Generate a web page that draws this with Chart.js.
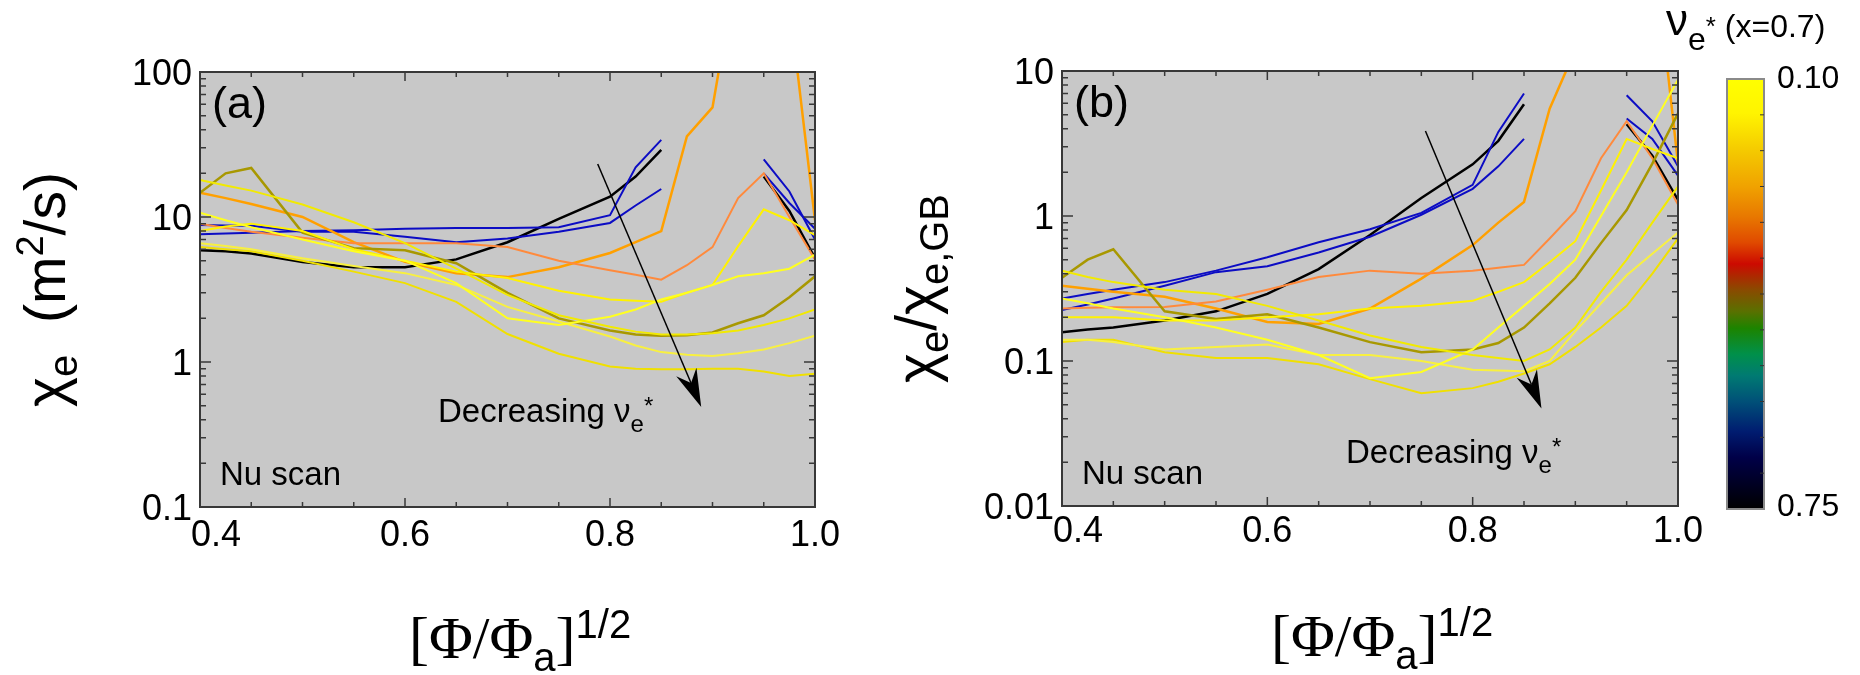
<!DOCTYPE html>
<html>
<head>
<meta charset="utf-8">
<script src="https://cdn.jsdelivr.net/npm/chart.js@4.4.0/dist/chart.umd.min.js"></script>
<style>
  body { margin: 0; background: #fff; }
  #wrap { position: relative; width: 1860px; height: 675px; }
  canvas { position: absolute; top: 0; }
  #ca { left: 0; }
  #cb { left: 860px; }
</style>
</head>
<body>
<div id="wrap">
  <canvas id="ca" width="860" height="675"></canvas>
  <canvas id="cb" width="1000" height="675"></canvas>
</div>
<script>
// radial grid [Phi/Phi_a]^1/2
const xGrid = [0.4, 0.425, 0.45, 0.5, 0.55, 0.6, 0.65, 0.7, 0.75, 0.8, 0.825, 0.85, 0.875, 0.9, 0.925, 0.95, 0.975, 1.0];

// (a) chi_e (m^2/s)
const aBlack  = [5.9, 5.8, 5.6, 4.9, 4.5, 4.5, 5.1, 6.7, 9.7, 13.8, 19, 29, null, null, null, 19, 11, 5.2];
const aBlue1  = [7.6, 7.7, 7.8, 8.0, 8.1, 8.3, 8.4, 8.4, 8.5, 10.3, 22, 34, null, null, null, 25, 15, 7.0];
const aBlue2  = [8.8, 8.75, 8.7, 7.9, 7.9, 7.3, 6.7, 7.1, 7.9, 9.1, 12, 15.6, null, null, null, 20, 12.5, 8.3];
const aOrange = [14.7, 13.5, 12.3, 10, 6.7, 4.9, 4.1, 3.85, 4.5, 5.65, 6.7, 8.0, 36, 57, 600, 900, 300, 9.5];
const aCoral  = [9.0, 8.4, 7.9, 7.2, 6.6, 6.6, 6.6, 6.2, 5.0, 4.3, 4.0, 3.7, 4.65, 6.2, 13.5, 20, 10, 5.1];
const aOlive  = [14.7, 20, 21.8, 7.8, 6.1, 5.9, 4.8, 3.0, 2.0, 1.65, 1.55, 1.52, 1.53, 1.6, 1.85, 2.1, 2.8, 3.9];
const aYel1   = [18, 16.5, 15.2, 12.2, 9.2, 6.6, 4.4, 2.9, 2.1, 1.75, 1.62, 1.55, 1.55, 1.58, 1.65, 1.8, 2.0, 2.3];
const aYel2   = [10.7, 9.5, 8.5, 7.0, 5.8, 5.0, 3.5, 2.0, 1.8, 2.05, 2.3, 2.7, 3.0, 3.4, 3.9, 4.1, 4.4, 5.5];
const aYel3   = [8.0, 8.6, 9.0, 8.0, 6.0, 5.0, 4.2, 3.8, 3.1, 2.7, 2.65, 2.6, 3.0, 3.4, 6.3, 11.3, 9.5, 7.5];
const aYel4   = [6.6, 6.3, 6.0, 5.2, 4.6, 4.1, 3.4, 2.4, 1.9, 1.5, 1.3, 1.17, 1.12, 1.1, 1.15, 1.22, 1.35, 1.52];
const aYel5   = [6.2, 6.0, 5.8, 5.0, 4.2, 3.5, 2.6, 1.56, 1.14, 0.93, 0.9, 0.89, 0.89, 0.9, 0.9, 0.86, 0.8, 0.83];

// (b) chi_e / chi_e,GB
const bBlack  = [0.158, 0.165, 0.17, 0.19, 0.22, 0.29, 0.43, 0.74, 1.33, 2.27, 3.3, 5.9, null, null, null, 4.3, 2.6, 1.29];
const bBlue1  = [0.225, 0.245, 0.27, 0.33, 0.41, 0.45, 0.56, 0.72, 1.02, 1.54, 2.2, 3.4, null, null, null, 4.7, 3.4, 1.9];
const bBlue2  = [0.27, 0.29, 0.31, 0.35, 0.42, 0.52, 0.66, 0.81, 1.05, 1.64, 3.8, 7.0, null, null, null, 6.8, 4.5, 2.2];
const bOrange = [0.33, 0.315, 0.30, 0.277, 0.23, 0.186, 0.18, 0.23, 0.37, 0.63, 0.9, 1.25, 5.5, 14, 60, 150, 90, 2.3];
const bCoral  = [0.23, 0.233, 0.235, 0.236, 0.257, 0.31, 0.38, 0.42, 0.40, 0.42, 0.44, 0.46, 0.7, 1.08, 2.5, 4.5, 2.5, 1.2];
const bOlive  = [0.375, 0.5, 0.59, 0.22, 0.195, 0.21, 0.17, 0.135, 0.115, 0.12, 0.133, 0.17, 0.25, 0.375, 0.65, 1.1, 2.3, 5.1];
const bYel1   = [0.42, 0.38, 0.35, 0.31, 0.29, 0.24, 0.19, 0.15, 0.125, 0.11, 0.105, 0.1, 0.12, 0.17, 0.3, 0.5, 0.9, 1.6];
const bYel2   = [0.27, 0.25, 0.23, 0.2, 0.17, 0.14, 0.11, 0.076, 0.084, 0.12, 0.17, 0.24, 0.34, 0.5, 1.0, 2.0, 4.2, 8.7];
const bYel3   = [0.2, 0.2, 0.2, 0.19, 0.19, 0.2, 0.21, 0.23, 0.24, 0.26, 0.3, 0.35, 0.48, 0.67, 1.5, 3.4, 2.9, 2.5];
const bYel4   = [0.14, 0.14, 0.135, 0.12, 0.125, 0.13, 0.11, 0.11, 0.1, 0.087, 0.086, 0.085, 0.1, 0.16, 0.25, 0.39, 0.55, 0.77];
const bYel5   = [0.135, 0.14, 0.14, 0.115, 0.105, 0.105, 0.095, 0.075, 0.06, 0.065, 0.072, 0.082, 0.095, 0.125, 0.17, 0.24, 0.4, 0.7];

// axis ticks
const xMajor = [0.4, 0.6, 0.8, 1.0];
const xMinor = [0.45, 0.5, 0.55, 0.65, 0.7, 0.75, 0.85, 0.9, 0.95];
const aDecades = [0.1, 1, 10, 100];
const bDecades = [0.01, 0.1, 1, 10];
const cbarLabels = ['0.10', '0.75'];

// arrow ends, in data units
const arrowA = { x0: 0.788, y0: 23.2, x1: 0.889, y1: 0.49 };
const arrowB = { x0: 0.754, y0: 3.86, x1: 0.867, y1: 0.047 };

const SANS = '"Liberation Sans", Arial, sans-serif';
const SERIF = '"Liberation Serif", "Times New Roman", serif';

// line styles, drawn in this order
const styles = [
  { key: 'Yel1', color: '#f2ea00', w: 2 },
  { key: 'Yel2', color: '#ffff20', w: 2 },
  { key: 'Yel3', color: '#fff200', w: 2 },
  { key: 'Yel4', color: '#f8f040', w: 2 },
  { key: 'Yel5', color: '#f0e000', w: 2 },
  { key: 'Olive', color: '#a89800', w: 2.5 },
  { key: 'Coral', color: '#ff8a3c', w: 2 },
  { key: 'Orange', color: '#ffa000', w: 2.5 },
  { key: 'Blue1', color: '#0c0cc4', w: 2 },
  { key: 'Blue2', color: '#0c0cc4', w: 2 },
  { key: 'Black', color: '#000000', w: 2.5 }
];
const aSeries = { Black: aBlack, Blue1: aBlue1, Blue2: aBlue2, Orange: aOrange, Coral: aCoral, Olive: aOlive,
                  Yel1: aYel1, Yel2: aYel2, Yel3: aYel3, Yel4: aYel4, Yel5: aYel5 };
const bSeries = { Black: bBlack, Blue1: bBlue1, Blue2: bBlue2, Orange: bOrange, Coral: bCoral, Olive: bOlive,
                  Yel1: bYel1, Yel2: bYel2, Yel3: bYel3, Yel4: bYel4, Yel5: bYel5 };

function makeDatasets(series) {
  return styles.map(s => ({
    label: s.key,
    data: series[s.key].map((v, i) => ({ x: xGrid[i], y: v })),
    borderColor: s.color,
    borderWidth: s.w,
    pointRadius: 0,
    tension: 0,
    fill: false
  }));
}

function drawRich(ctx, parts, x, y) {
  for (const p of parts) {
    ctx.font = p.font;
    ctx.fillText(p.t, x, y + (p.dy || 0));
    x += ctx.measureText(p.t).width;
  }
}
function richWidth(ctx, parts) {
  let w = 0;
  for (const p of parts) { ctx.font = p.font; w += ctx.measureText(p.t).width; }
  return w;
}

function drawArrow(ctx, x0, y0, x1, y1) {
  const ang = Math.atan2(y1 - y0, x1 - x0);
  const len = 38, half = 11, notch = 26;
  ctx.strokeStyle = '#000';
  ctx.lineWidth = 1.5;
  ctx.beginPath();
  ctx.moveTo(x0, y0);
  ctx.lineTo(x1 - Math.cos(ang) * notch, y1 - Math.sin(ang) * notch);
  ctx.stroke();
  const bx = x1 - Math.cos(ang) * len, by = y1 - Math.sin(ang) * len;
  const nx = -Math.sin(ang), ny = Math.cos(ang);
  ctx.fillStyle = '#000';
  ctx.beginPath();
  ctx.moveTo(x1, y1);
  ctx.lineTo(bx + nx * half, by + ny * half);
  ctx.lineTo(x1 - Math.cos(ang) * notch, y1 - Math.sin(ang) * notch);
  ctx.lineTo(bx - nx * half, by - ny * half);
  ctx.closePath();
  ctx.fill();
}

function framePlugin(cfg) {
  return {
    id: 'frame',
    beforeDatasetsDraw(chart) {
      const { ctx, chartArea: a } = chart;
      ctx.save();
      ctx.fillStyle = '#c8c8c8';
      ctx.fillRect(a.left, a.top, a.right - a.left, a.bottom - a.top);
      ctx.restore();
    },
    afterDatasetsDraw(chart) {
      const { ctx, chartArea: a } = chart;
      const xs = chart.scales.x, ys = chart.scales.y;
      ctx.save();
      ctx.strokeStyle = '#383838';
      ctx.lineWidth = 1.5;
      // ticks, pointing inward on all four sides
      ctx.beginPath();
      const decs = cfg.decades;
      for (let i = 0; i < decs.length; i++) {
        const py = ys.getPixelForValue(decs[i]);
        ctx.moveTo(a.left, py); ctx.lineTo(a.left + 11, py);
        ctx.moveTo(a.right, py); ctx.lineTo(a.right - 11, py);
        if (i < decs.length - 1) {
          for (let m = 2; m <= 9; m++) {
            const my = ys.getPixelForValue(decs[i] * m);
            ctx.moveTo(a.left, my); ctx.lineTo(a.left + 6, my);
            ctx.moveTo(a.right, my); ctx.lineTo(a.right - 6, my);
          }
        }
      }
      for (const v of xMajor) {
        const px = xs.getPixelForValue(v);
        ctx.moveTo(px, a.bottom); ctx.lineTo(px, a.bottom - 9);
        ctx.moveTo(px, a.top); ctx.lineTo(px, a.top + 9);
      }
      for (const v of xMinor) {
        const px = xs.getPixelForValue(v);
        ctx.moveTo(px, a.bottom); ctx.lineTo(px, a.bottom - 5);
        ctx.moveTo(px, a.top); ctx.lineTo(px, a.top + 5);
      }
      ctx.stroke();
      ctx.lineWidth = 2;
      ctx.strokeRect(a.left, a.top, a.right - a.left, a.bottom - a.top);

      ctx.fillStyle = '#000';
      // y tick labels
      ctx.font = '36px ' + SANS;
      ctx.textAlign = 'right';
      ctx.textBaseline = 'middle';
      for (const v of decs) {
        ctx.fillText(String(v), a.left - 8, ys.getPixelForValue(v) + 3);
      }
      // x tick labels
      ctx.textAlign = 'center';
      xMajor.forEach((v, i) => {
        const px = xs.getPixelForValue(v) + (i === 0 ? 16 : 0);
        ctx.fillText(v.toFixed(1), px, a.bottom + cfg.xLabelGap);
      });

      ctx.textAlign = 'left';
      ctx.textBaseline = 'alphabetic';
      ctx.font = '45px ' + SANS;
      ctx.fillText(cfg.panel, a.left + 12, a.top + 46);
      ctx.font = '33px ' + SANS;
      ctx.fillText('Nu scan', a.left + 20, a.bottom - 22);

      drawRich(ctx, [
        { t: 'Decreasing ν', font: '33px ' + SANS },
        { t: 'e', font: '24px ' + SANS, dy: 10 },
        { t: '*', font: '24px ' + SANS, dy: -8 }
      ], cfg.decX, cfg.decY);

      const ar = cfg.arrow;
      drawArrow(ctx, xs.getPixelForValue(ar.x0), ys.getPixelForValue(ar.y0),
                xs.getPixelForValue(ar.x1), ys.getPixelForValue(ar.y1));

      // y axis title (rotated)
      ctx.save();
      ctx.translate(cfg.yTitleX, (a.top + a.bottom) / 2);
      ctx.rotate(-Math.PI / 2);
      const w = richWidth(ctx, cfg.yTitle);
      drawRich(ctx, cfg.yTitle, -w / 2, 0);
      ctx.restore();

      // x axis title
      drawRich(ctx, [
        { t: '[Φ/Φ', font: '60px ' + SERIF },
        { t: 'a', font: '40px ' + SANS, dy: 13 },
        { t: ']', font: '60px ' + SERIF },
        { t: '1/2', font: '40px ' + SANS, dy: -20 }
      ], a.left + 209, cfg.xTitleY);

      if (cfg.colorbar) drawColorbar(ctx, cfg.colorbar);
      ctx.restore();
    }
  };
}

function drawColorbar(ctx, cb) {
  const g = ctx.createLinearGradient(0, cb.top, 0, cb.bottom);
  const stops = [
    [0.00, '#ffff00'], [0.08, '#fff400'], [0.17, '#f4c800'], [0.25, '#f0a200'],
    [0.32, '#e87800'], [0.38, '#e04a00'], [0.43, '#cc0a00'], [0.49, '#8a4a00'],
    [0.54, '#5a7000'], [0.58, '#1c8400'], [0.64, '#00904a'], [0.69, '#007a72'],
    [0.75, '#005078'], [0.82, '#001c70'], [0.88, '#000048'], [1.00, '#000000']
  ];
  for (const [o, c] of stops) g.addColorStop(o, c);
  ctx.fillStyle = g;
  ctx.fillRect(cb.left, cb.top, cb.right - cb.left, cb.bottom - cb.top);
  ctx.strokeStyle = '#8a8a8a';
  ctx.lineWidth = 2;
  ctx.strokeRect(cb.left, cb.top, cb.right - cb.left, cb.bottom - cb.top);
  ctx.strokeStyle = '#333';
  ctx.lineWidth = 1;
  ctx.beginPath();
  for (let i = 1; i < 12; i++) {
    const y = cb.top + (cb.bottom - cb.top) * i / 12;
    ctx.moveTo(cb.right, y); ctx.lineTo(cb.right - 4, y);
  }
  ctx.stroke();
  ctx.fillStyle = '#000';
  ctx.font = '32px ' + SANS;
  ctx.textAlign = 'left';
  ctx.textBaseline = 'middle';
  ctx.fillText(cbarLabels[0], cb.right + 13, cb.top);
  ctx.fillText(cbarLabels[1], cb.right + 13, cb.bottom - 2);
  ctx.textBaseline = 'alphabetic';
  drawRich(ctx, [
    { t: 'ν', font: '44px ' + SANS },
    { t: 'e', font: '32px ' + SANS, dy: 15 },
    { t: '*', font: '26px ' + SANS, dy: 0 },
    { t: ' (x=0.7)', font: '32px ' + SANS, dy: 2 }
  ], cb.titleX, 35);
}

function makeChart(id, series, yMin, yMax, pad, cfg) {
  return new Chart(document.getElementById(id), {
    type: 'line',
    data: { datasets: makeDatasets(series) },
    options: {
      responsive: false,
      animation: false,
      devicePixelRatio: 1,
      layout: { padding: pad },
      plugins: { legend: { display: false }, tooltip: { enabled: false } },
      scales: {
        x: { type: 'linear', min: 0.4, max: 1.0, display: false },
        y: { type: 'logarithmic', min: yMin, max: yMax, display: false }
      }
    },
    plugins: [framePlugin(cfg)]
  });
}

makeChart('ca', aSeries, 0.1, 100, { left: 200, top: 72, right: 45, bottom: 168 }, {
  decades: aDecades,
  panel: '(a)',
  xLabelGap: 29,
  decX: 438, decY: 422,
  arrow: arrowA,
  yTitleX: 65,
  yTitle: [
    { t: 'χ', font: '57px ' + SANS },
    { t: 'e', font: '40px ' + SANS, dy: 12 },
    { t: '  (m', font: '57px ' + SANS },
    { t: '2', font: '38px ' + SANS, dy: -22 },
    { t: '/s)', font: '57px ' + SANS }
  ],
  xTitleY: 658
});

makeChart('cb', bSeries, 0.01, 10, { left: 202, top: 71, right: 182, bottom: 169 }, {
  decades: bDecades,
  panel: '(b)',
  xLabelGap: 26,
  decX: 486, decY: 463,
  arrow: arrowB,
  yTitleX: 76,
  yTitle: [
    { t: 'χ', font: '57px ' + SANS },
    { t: 'e', font: '40px ' + SANS, dy: 12 },
    { t: '/χ', font: '57px ' + SANS },
    { t: 'e,GB', font: '40px ' + SANS, dy: 12 }
  ],
  xTitleY: 656,
  colorbar: { left: 867, right: 904, top: 79, bottom: 509, titleX: 806 }
});
</script>
</body>
</html>
